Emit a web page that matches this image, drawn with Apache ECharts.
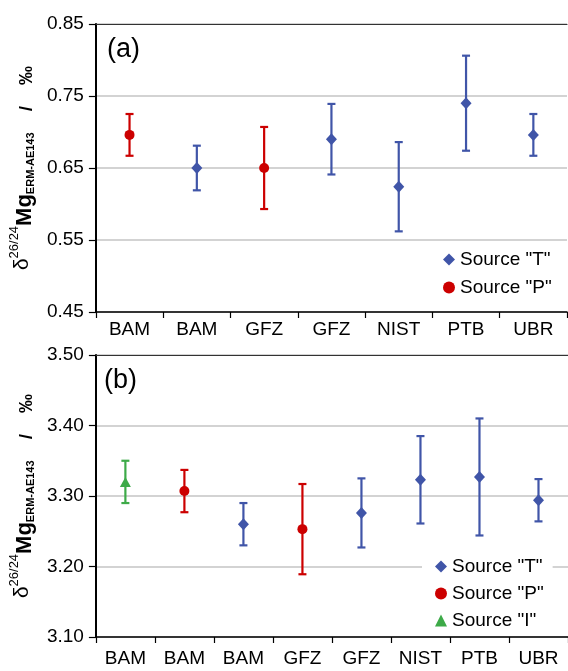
<!DOCTYPE html>
<html>
<head>
<meta charset="utf-8">
<script src="https://cdn.jsdelivr.net/npm/echarts@6/dist/echarts.min.js"></script>
<style>
html,body{margin:0;padding:0;background:#fff;}
#c{width:568px;height:671px;}
</style>
</head>
<body>
<div id="c"></div>
<script>
// Panel (a)
const catsA = ['BAM','BAM','GFZ','GFZ','NIST','PTB','UBR'];
const srcA  = ['P','T','P','T','T','T','T'];
const meanA = [0.696,0.650,0.650,0.690,0.624,0.740,0.696];
const uncA  = [0.029,0.031,0.057,0.049,0.062,0.066,0.029];
const ticksA = [0.45,0.55,0.65,0.75,0.85];

// Panel (b)
const catsB = ['BAM','BAM','BAM','GFZ','GFZ','NIST','PTB','UBR'];
const srcB  = ['I','P','T','P','T','T','T','T'];
const meanB = [3.320,3.307,3.260,3.253,3.276,3.323,3.327,3.294];
const uncB  = [0.030,0.030,0.030,0.064,0.049,0.062,0.083,0.030];
const ticksB = [3.10,3.20,3.30,3.40,3.50];

const sources = ['T','P','I'];
const srcName = {T:'Source "T"', P:'Source "P"', I:'Source "I"'};
const srcColor = {T:'#4055A8', P:'#CC0000', I:'#3DAA48'};
const srcSymbol = {T:'diamond', P:'circle', I:'triangle'};
const srcSize = {T:[11,12], P:10, I:[11,10]};

const FONT = 'Liberation Sans, Arial, sans-serif';

function errSeries(cats, src, mean, unc, xi, yi, s){
  const d = [];
  src.forEach((v,i)=>{ if(v===s) d.push([i, mean[i]-unc[i], mean[i]+unc[i]]); });
  if(!d.length) return null;
  return {
    type:'custom', name:'err'+s+xi, xAxisIndex:xi, yAxisIndex:yi, z:2,
    silent:true,
    encode:{x:0, y:[1,2]},
    data:d,
    renderItem:function(params, api){
      const x = api.value(0);
      const top = api.coord([x, api.value(2)]);
      const bot = api.coord([x, api.value(1)]);
      const hw = 4;
      const st = {stroke:srcColor[s], lineWidth:2.2};
      return {type:'group', children:[
        {type:'line', shape:{x1:top[0],y1:top[1],x2:bot[0],y2:bot[1]}, style:st},
        {type:'line', shape:{x1:top[0]-hw,y1:top[1],x2:top[0]+hw,y2:top[1]}, style:st},
        {type:'line', shape:{x1:bot[0]-hw,y1:bot[1],x2:bot[0]+hw,y2:bot[1]}, style:st}
      ]};
    }
  };
}
function ptSeries(cats, src, mean, xi, yi, s){
  const d = [];
  src.forEach((v,i)=>{ if(v===s) d.push([i, mean[i]]); });
  if(!d.length) return null;
  return {
    type:'scatter', name:srcName[s], xAxisIndex:xi, yAxisIndex:yi, z:3,
    symbol:srcSymbol[s], symbolSize:srcSize[s],
    itemStyle:{color:srcColor[s], opacity:1},
    data:d
  };
}

const series = [];
sources.forEach(s=>{
  [errSeries(catsA,srcA,meanA,uncA,0,0,s), errSeries(catsB,srcB,meanB,uncB,2,1,s),
   ptSeries(catsA,srcA,meanA,0,0,s), ptSeries(catsB,srcB,meanB,2,1,s)].forEach(x=>{ if(x) series.push(x); });
});

const yName = '{d|δ}{sup|26/24}{mg|Mg}{sub|ERM-AE143}{sl|    /    }{pm|‰}';
const yRich = {
  d:{fontSize:21, fontFamily:FONT, color:'#000', lineHeight:28, verticalAlign:'middle'},
  sup:{fontSize:13, fontFamily:FONT, color:'#000', lineHeight:16, verticalAlign:'top'},
  mg:{fontSize:22, fontWeight:'bold', fontFamily:FONT, color:'#000', lineHeight:28, verticalAlign:'bottom'},
  sub:{fontSize:11, fontWeight:'bold', fontFamily:FONT, color:'#000', lineHeight:12, verticalAlign:'bottom'},
  sl:{fontSize:19, fontWeight:'bold', fontFamily:FONT, color:'#000', lineHeight:24, verticalAlign:'bottom'},
  pm:{fontSize:19, fontWeight:'bold', fontFamily:FONT, color:'#000', lineHeight:24, verticalAlign:'bottom'}
};

function yAxisDef(gi, ticks){
  return {
    type:'value', gridIndex:gi, min:ticks[0], max:ticks[ticks.length-1], interval:0.1,
    name:yName, nameLocation:'middle', nameRotate:90, nameGap:58,
    nameTextStyle:{rich:yRich},
    axisLine:{show:true, lineStyle:{color:'#000', width:2}},
    axisTick:{show:true, inside:false, length:7, lineStyle:{color:'#000', width:1.2}},
    axisLabel:{fontSize:19, fontFamily:FONT, color:'#000', margin:12,
      formatter:v=>v.toFixed(2)},
    splitLine:{show:true, lineStyle:{color:'#c4c4c4', width:1.5}}
  };
}
function xAxisDef(gi, cats, margin){
  return {
    type:'category', gridIndex:gi, data:cats, boundaryGap:true,
    axisLine:{show:true, lineStyle:{color:'#000', width:1.5}},
    axisTick:{show:true, inside:false, length:6, alignWithLabel:false, lineStyle:{color:'#000', width:1.2}},
    axisLabel:{fontSize:19, fontFamily:FONT, color:'#000', margin:margin, interval:0},
    splitLine:{show:false}
  };
}
function topAxisDef(gi, cats){
  return {
    type:'category', gridIndex:gi, data:cats, position:'top',
    axisLine:{show:true, onZero:false, lineStyle:{color:'#333', width:1.2}},
    axisTick:{show:false}, axisLabel:{show:false}, splitLine:{show:false}
  };
}

const legendText = {fontSize:19, fontFamily:FONT, color:'#000'};
const option = {
  animation:false,
  backgroundColor:'#fff',
  grid:[
    {left:95, top:24, width:472, height:288},
    {left:95, top:355, width:473, height:282}
  ],
  xAxis:[xAxisDef(0,catsA,8), topAxisDef(0,catsA), xAxisDef(1,catsB,12), topAxisDef(1,catsB)],
  yAxis:[yAxisDef(0,ticksA), yAxisDef(1,ticksB)],
  legend:[
    {orient:'vertical', left:438, top:245, itemWidth:12, itemHeight:12, itemGap:9,
     padding:5, textStyle:legendText, selectedMode:false,
     data:[{name:srcName.T, icon:'diamond'},{name:srcName.P, icon:'circle'}]},
    {orient:'vertical', left:422, top:552, itemWidth:12, itemHeight:12, itemGap:8,
     padding:[5,9,5,13], backgroundColor:'#fff', textStyle:legendText, selectedMode:false,
     data:[{name:srcName.T, icon:'diamond'},{name:srcName.P, icon:'circle'},{name:srcName.I, icon:'triangle'}]}
  ],
  graphic:[
    {type:'text', left:107, top:36, style:{text:'(a)', fontSize:27, fontFamily:FONT, fill:'#000'}},
    {type:'text', left:104, top:367, style:{text:'(b)', fontSize:27, fontFamily:FONT, fill:'#000'}}
  ],
  series:series
};
const chart = echarts.init(document.getElementById('c'), null, {renderer:'canvas'});
chart.setOption(option);
</script>
</body>
</html>
